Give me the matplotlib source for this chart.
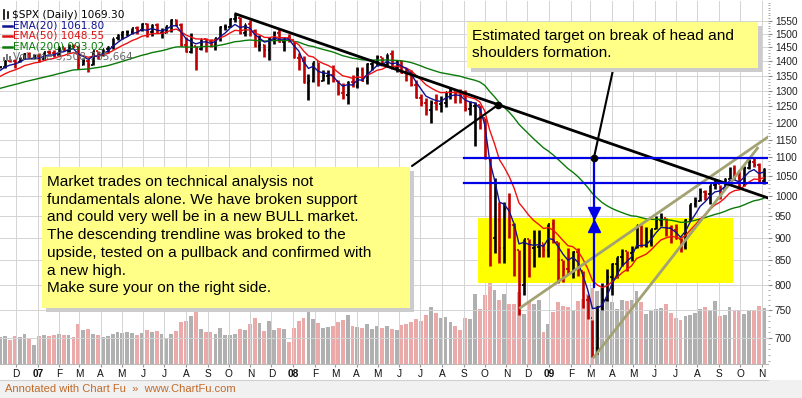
import numpy as np
import pandas as pd
import matplotlib
matplotlib.use("Agg")
import matplotlib.pyplot as plt
import matplotlib.dates as mdates
from matplotlib.patches import Rectangle
from matplotlib.lines import Line2D
from matplotlib.ticker import FixedLocator, NullFormatter

W, H = 802, 398

# =====================================
# DATA (weekly)
# =====================================

# weekly closes before the visible window (only used to warm up the EMAs)
pre_close = [1285, 1287, 1261, 1283, 1264, 1267, 1287, 1289, 1287, 1282,
             1307, 1302, 1295, 1295, 1289, 1311, 1310, 1326, 1291, 1267,
             1280, 1288, 1253, 1252, 1245, 1270, 1265, 1236, 1240, 1278,
             1280, 1266, 1302, 1295, 1311, 1299, 1321, 1314, 1336, 1349,
             1366, 1368, 1377, 1364]

close = [
    1380, 1401, 1400, 1397, 1409, 1427, 1410, 1418,            # 2006 Nov-Dec
    1409, 1431, 1430, 1422,  1449, 1438, 1456, 1451,           # 2007 Jan Feb
    1388, 1402, 1386, 1437, 1421,  1443, 1452, 1484, 1494,     # Mar Apr
    1505, 1505, 1522, 1515,  1536, 1507, 1533, 1503, 1503,     # May Jun
    1530, 1552, 1534, 1459,  1433, 1453, 1445, 1479, 1474,     # Jul Aug
    1454, 1484, 1525, 1527,  1557, 1561, 1501, 1535,           # Sep Oct
    1509, 1453, 1458, 1440, 1481,  1504, 1468, 1484, 1478,     # Nov Dec
    1411, 1401, 1325, 1331,  1396, 1331, 1350, 1353, 1331,     # 2008 Jan Feb
    1294, 1288, 1330, 1316,  1370, 1332, 1390, 1398,           # Mar Apr
    1414, 1388, 1425, 1375, 1400,  1361, 1360, 1318, 1278,     # May Jun
    1262, 1239, 1261, 1257,  1260, 1296, 1298, 1292, 1282,     # Jul Aug
    1242, 1252, 1255, 1213,  1099, 899, 940, 877, 968,         # Sep Oct
    930, 873, 800, 896,  876, 879, 887, 873,                   # Nov Dec
    932, 890, 850, 832, 826,  869, 827, 770, 735,              # 2009 Jan Feb
    683, 756, 769, 816,  843, 857, 870, 866,                   # Mar Apr
    877, 929, 882, 887, 919,  940, 946, 921, 918,              # May Jun
    896, 879, 940, 979, 987,  1010, 1005, 1026, 1029,          # Jul Aug
    1016, 1042, 1068, 1044,  1025, 1071, 1087, 1079, 1036,     # Sep Oct
    1069,                                                      # Nov
]

high = [
    1385, 1403, 1407, 1407, 1415, 1428, 1431, 1427,
    1430, 1431, 1441, 1441,  1449, 1452, 1461, 1461,
    1456, 1410, 1410, 1437, 1438,  1445, 1453, 1485, 1499,
    1510, 1513, 1522, 1529,  1540, 1540, 1538, 1540, 1520,
    1531, 1555, 1556, 1541,  1488, 1504, 1456, 1480, 1483,
    1482, 1485, 1530, 1538,  1561, 1576, 1564, 1535,
    1552, 1519, 1494, 1462, 1488,  1510, 1523, 1485, 1498,
    1471, 1429, 1420, 1355,  1396, 1396, 1370, 1368, 1388,
    1335, 1325, 1331, 1352,  1380, 1380, 1395, 1398,
    1422, 1416, 1425, 1440, 1406,  1404, 1375, 1370, 1335,
    1290, 1278, 1270, 1290,  1284, 1297, 1314, 1300, 1306,
    1303, 1267, 1265, 1255,  1214, 1099, 1044, 985, 984,
    1007, 933, 873, 896,  896, 918, 917, 888,
    932, 943, 890, 850, 877,  870, 876, 827, 780,
    732, 758, 804, 832,  845, 857, 875, 871,
    882, 930, 930, 925, 920,  951, 956, 946, 928,
    931, 898, 943, 979, 996,  1018, 1013, 1027, 1039,
    1028, 1045, 1074, 1080,  1065, 1076, 1097, 1101, 1086,
    1072,
]

low = [
    1375, 1378, 1398, 1377, 1396, 1407, 1410, 1408,
    1398, 1405, 1424, 1416,  1420, 1437, 1431, 1450,
    1374, 1386, 1364, 1386, 1408,  1418, 1430, 1443, 1477,
    1481, 1490, 1498, 1500,  1512, 1487, 1490, 1502, 1485,
    1503, 1508, 1529, 1453,  1433, 1430, 1371, 1440, 1432,
    1449, 1440, 1473, 1515,  1524, 1546, 1500, 1490,
    1492, 1450, 1438, 1415, 1406,  1460, 1468, 1435, 1468,
    1411, 1370, 1325, 1270,  1330, 1317, 1331, 1323, 1330,
    1287, 1273, 1257, 1312,  1310, 1332, 1324, 1368,
    1384, 1384, 1384, 1374, 1362,  1360, 1334, 1317, 1278,
    1252, 1225, 1200, 1240,  1234, 1247, 1274, 1261, 1262,
    1236, 1225, 1133, 1180,  1097, 839, 865, 845, 845,
    899, 818, 741, 780,  815, 837, 857, 857,
    857, 888, 804, 805, 822,  814, 818, 755, 734,
    667, 672, 750, 767,  780, 814, 838, 827,
    848, 877, 878, 879, 881,  919, 926, 903, 888,
    896, 869, 875, 940, 972,  987, 990, 978, 1017,
    991, 1018, 1041, 1041,  1020, 1025, 1070, 1073, 1033,
    1029,
]

# average daily volume of each week, billions of shares
volume = [
    2.7, 2.8, 2.4, 2.8, 2.7, 3.0, 2.6, 1.9,
    2.8, 2.9, 2.8, 2.9,  3.0, 2.9, 2.9, 2.7,
    4.0, 3.4, 3.5, 3.0, 2.9,  2.7, 2.8, 3.0, 3.2,
    3.1, 3.2, 3.1, 2.9,  3.1, 3.4, 3.2, 3.3, 3.0,
    2.6, 3.0, 3.3, 4.2,  4.3, 4.8, 5.2, 3.5, 3.2,
    3.2, 3.0, 3.6, 2.9,  2.9, 3.0, 3.5, 3.4,
    4.0, 4.6, 4.1, 3.3, 4.3,  3.4, 3.6, 3.5, 2.2,
    3.6, 4.3, 4.6, 5.4,  4.5, 4.1, 3.6, 3.7, 3.8,
    4.2, 4.4, 4.9, 3.8,  3.7, 3.6, 4.0, 3.5,
    3.8, 3.6, 3.8, 3.5, 3.4,  3.9, 4.0, 4.2, 4.5,
    4.3, 4.9, 5.7, 5.1,  4.6, 4.7, 4.2, 3.8, 3.4,
    4.6, 4.5, 7.0, 5.5,  6.9, 8.6, 7.4, 6.4, 7.0,
    6.0, 6.0, 7.2, 5.0,  6.2, 6.0, 6.4, 3.2,
    4.0, 5.2, 6.2, 5.8, 5.7,  5.4, 6.3, 6.5, 7.0,
    7.6, 7.3, 7.6, 6.5,  6.2, 5.5, 6.4, 6.3,
    6.4, 7.3, 6.2, 5.0, 5.3,  5.5, 5.6, 6.0, 5.1,
    4.6, 4.4, 4.8, 4.9, 5.1,  5.5, 5.7, 5.4, 6.3,
    4.8, 4.9, 5.7, 5.3,  5.4, 5.0, 5.3, 5.4, 5.8,
    5.6,
]

price_ticks = list(range(700, 1551, 50))

# annotation lines (date, price)
down_tl_dates = ["2007-10-11", "2009-11-10"]
down_tl_prices = [1576, 994]
chan_a_dates = ["2008-11-21", "2009-11-10"]
chan_a_prices = [755, 1158]
chan_b_dates = ["2009-03-06", "2009-10-26"]
chan_b_prices = [667, 1126]
target_levels = [1098, 1033]
target_dates = ["2008-09-01", "2009-11-10"]
zone_dates = ["2008-09-22", "2009-09-21"]
zone_prices = [804, 946]
arrow_date = "2009-03-06"
arrow_prices = [1098, 795]
arrow_heads = [958, 927]
dot_dates = ["2008-10-20", "2009-03-06"]
dot_prices = [1255, 1098]

note_left = ["Market trades on technical analysis not",
             "fundamentals alone. We have broken support",
             "and could very well be in a new BULL market.",
             "The descending trendline was broked to the",
             "upside, tested on a pullback and confirmed with",
             "a new high.",
             "Make sure your on the right side."]
note_right = ["Estimated target on break of head and",
              "shoulders formation."]

# =====================================
# PREP
# =====================================

weeks = pd.date_range("2006-11-10", periods=len(close), freq="W-FRI")
xb = mdates.date2num(weeks) - 2  # centre bar on the week

all_close = pd.Series(pre_close + close, dtype=float)
n0 = len(pre_close)
ema20 = all_close.ewm(span=4.8, adjust=False).mean().values[n0:]
ema50 = all_close.ewm(span=10.8, adjust=False).mean().values[n0:]
ema200 = all_close.ewm(span=40.8, adjust=False).mean().values[n0:]

prev = np.array([pre_close[-1]] + close[:-1])
up = np.array(close) >= prev
bar_col = np.where(up, "#000000", "#c00000")
vol_col = np.where(up, "#b0b0b0", "#ebaaaa")

def d(s):
    return mdates.date2num(pd.Timestamp(s))

def fx(px):
    return px / W

def fy(py):
    return 1 - py / H

# =====================================
# FIGURE
# =====================================

plt.rcParams["font.family"] = ["Liberation Sans", "DejaVu Sans"]

fig = plt.figure(figsize=(W / 100, H / 100), dpi=100)
ax = fig.add_axes([0, fy(364), fx(768), 363 / H])
axv = ax.twinx()
ax.set_zorder(2)
axv.set_zorder(1)
ax.patch.set_visible(False)

# volume
axv.bar(xb, volume, width=5.5, color=vol_col, linewidth=0)
axv.set_ylim(0, 36.3)
axv.set_yticks([])
for s in axv.spines.values():
    s.set_visible(False)

ax.set_yscale("log")
ax.set_xlim(d("2006-11-08"), d("2009-11-10"))
ax.set_ylim(655.7, 1628)

# grid and ticks
month_starts = pd.date_range("2006-12-01", "2009-11-01", freq="MS")
ax.xaxis.set_major_locator(FixedLocator(mdates.date2num(month_starts)))
ax.set_xticklabels([m.strftime("%y") if m.month == 1 else m.strftime("%b")[0]
                    for m in month_starts])
for lbl, m in zip(ax.get_xticklabels(), month_starts):
    if m.month == 1:
        lbl.set_fontweight("bold")
ax.yaxis.set_major_locator(FixedLocator(price_ticks))
ax.yaxis.set_minor_locator(FixedLocator(range(660, 1630, 10)))
ax.yaxis.set_major_formatter(plt.FixedFormatter([str(p) for p in price_ticks]))
ax.yaxis.set_minor_formatter(NullFormatter())
ax.yaxis.tick_right()
ax.grid(True, which="major", color="#d4d4d4", lw=0.7)
ax.set_axisbelow(True)
ax.tick_params(axis="y", which="major", labelsize=7.3, length=3, pad=2,
               color="#888888", labelcolor="#222222")
ax.tick_params(axis="y", which="minor", length=1.5, color="#999999")
ax.tick_params(axis="x", labelsize=7.3, length=2.5, pad=1,
               color="#999999", labelcolor="#111111")
for k in ["top", "left", "right"]:
    ax.spines[k].set_visible(False)
ax.spines["bottom"].set_color("#bbbbbb")

# target zone
ax.add_patch(Rectangle((d(zone_dates[0]), zone_prices[0]),
                       d(zone_dates[1]) - d(zone_dates[0]),
                       zone_prices[1] - zone_prices[0],
                       fc="#ffff00", ec="none", zorder=1))

# price bars (open tick = previous close)
ax.vlines(xb, low, high, colors=bar_col, lw=1.9, zorder=3)
ax.hlines(close, xb, xb + 2.4, colors=bar_col, lw=1.2, zorder=3)
ax.hlines(prev, xb - 2.4, xb, colors=bar_col, lw=1.2, zorder=3)

# moving averages
ax.plot(xb, ema200, color="#0a7a0a", lw=1.0, zorder=3)
ax.plot(xb, ema50, color="#ee1111", lw=1.0, zorder=3)
ax.plot(xb, ema20, color="#101090", lw=1.0, zorder=3)

# trendlines
ax.plot([d(s) for s in chan_a_dates], chan_a_prices, color="#a3a272", lw=2, zorder=4)
ax.plot([d(s) for s in chan_b_dates], chan_b_prices, color="#a3a272", lw=2, zorder=4)
ax.plot([d(s) for s in down_tl_dates], down_tl_prices, color="black", lw=2, zorder=4)
for lvl in target_levels:
    ax.plot([d(s) for s in target_dates], [lvl, lvl], color="#0000e6", lw=1.6, zorder=4)

# measured move arrow
ax.plot([d(arrow_date)] * 2, arrow_prices, color="#0000e6", lw=1.6, zorder=5)
ax.plot(d(arrow_date), arrow_heads[0], marker="v", ms=9, color="#0000e6", zorder=5)
ax.plot(d(arrow_date), arrow_heads[1], marker="^", ms=9, color="#0000e6", zorder=5)

# connectors from notes
ax.annotate("", xy=(d(dot_dates[0]), dot_prices[0]), xytext=(fx(412), fy(166)),
            textcoords="figure fraction",
            arrowprops=dict(arrowstyle="-", lw=1.5, color="black",
                            shrinkA=0, shrinkB=0), zorder=6)
ax.annotate("", xy=(d(dot_dates[1]), dot_prices[1]), xytext=(fx(613), fy(70)),
            textcoords="figure fraction",
            arrowprops=dict(arrowstyle="-", lw=1.5, color="black",
                            shrinkA=0, shrinkB=0), zorder=6)
ax.plot([d(s) for s in dot_dates], dot_prices, "o", color="black", ms=4.5, zorder=6)

# note boxes
def note(x0, y0, x1, y1, lines, tx, ty, step):
    fig.add_artist(Rectangle((fx(x0 + 4), fy(y1 + 4)), (x1 - x0) / W, (y1 - y0) / H,
                             transform=fig.transFigure, fc="#cccccc", ec="none", zorder=10))
    fig.add_artist(Rectangle((fx(x0), fy(y1)), (x1 - x0) / W, (y1 - y0) / H,
                             transform=fig.transFigure, fc="#ffff88", ec="none", zorder=11))
    for i, t in enumerate(lines):
        fig.text(fx(tx), fy(ty + i * step), t, fontsize=11.1, color="black",
                 va="center", ha="left", zorder=12)

note(42, 167, 410, 308, note_left, 47, 182, 17.7)
note(467, 22, 758, 68, note_right, 472, 36, 17.0)

# legend
fig.text(fx(12), fy(15), "$SPX (Daily) 1069.30", fontsize=7.6,
         family="DejaVu Sans", va="center", color="black", zorder=12)
fig.add_artist(Line2D([fx(4), fx(4)], [fy(10), fy(19)], transform=fig.transFigure,
                      color="black", lw=1.2, zorder=12))
fig.add_artist(Line2D([fx(8), fx(8)], [fy(12), fy(18)], transform=fig.transFigure,
                      color="black", lw=1.2, zorder=12))
legend_items = [("EMA(20) 1061.80", "#101090", 25.5),
                ("EMA(50) 1048.55", "#dd1111", 36),
                ("EMA(200) 993.02", "#0a7a0a", 46.5)]
for txt, col, yy in legend_items:
    fig.add_artist(Line2D([fx(3), fx(12)], [fy(yy), fy(yy)], transform=fig.transFigure,
                          color=col, lw=1.8, zorder=12))
    fig.text(fx(13), fy(yy), txt, fontsize=7.6, family="DejaVu Sans",
             va="center", color=col, zorder=12)
for i, hh in enumerate([4, 7, 5]):
    fig.add_artist(Rectangle((fx(3 + i * 3), fy(61)), 2 / W, hh / H,
                             transform=fig.transFigure, fc="#777777", ec="none", zorder=12))
fig.text(fx(13), fy(57), "Volume 3,508,785,664", fontsize=7.6, family="DejaVu Sans",
         va="center", color="#666666", zorder=12)

# footer
fig.add_artist(Rectangle((0, 0), 1, fy(380), transform=fig.transFigure,
                         fc="#f1f1f1", ec="none", zorder=0))
fig.add_artist(Line2D([0, fx(768)], [fy(380), fy(380)], transform=fig.transFigure,
                      color="#d0d0d0", lw=0.8, zorder=1))
fig.text(fx(5), fy(389), "Annotated with Chart Fu  \u00bb  www.ChartFu.com",
         fontsize=8, color="#c06a2a", va="center", zorder=2)

fig.savefig("out.png", dpi=100)
plt.close(fig)
